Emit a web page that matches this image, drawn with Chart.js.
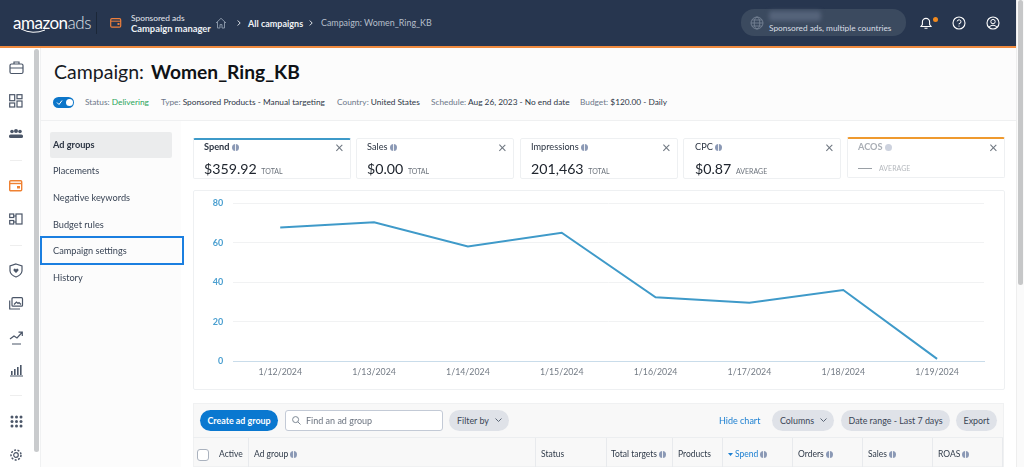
<!DOCTYPE html>
<html><head><meta charset="utf-8">
<script src="https://cdn.jsdelivr.net/npm/chart.js@4"></script>
<style>
html,body{margin:0;padding:0;width:1024px;height:467px;overflow:hidden;background:#fff;font-family:Lato,"Noto Sans",sans-serif;color:#2b3442}
#root{position:relative;width:1024px;height:467px;overflow:hidden;filter:blur(.45px)}
.a{position:absolute;white-space:nowrap;line-height:1}
.card{position:absolute;background:#fff;border:1px solid #eef0f2;border-radius:2px;box-sizing:border-box}
.pill{position:absolute;background:#dfe2e8;border-radius:11px;height:21px;font-size:8.9px;line-height:21px;text-align:center;color:#3a4556}
.i{display:inline-block;width:7px;height:7px;border-radius:50%;background:linear-gradient(90deg,#8b99b5 42%,#eef0f4 42%,#eef0f4 58%,#8b99b5 58%);vertical-align:-.5px}
.x{position:absolute;font-size:15px;color:#707882;line-height:1}
svg{position:absolute;overflow:visible}
.th{position:absolute;top:438px;height:29px;border-right:1px solid #e8eaed;box-sizing:border-box}
.tt{font-size:8.5px;color:#2f3a49;top:450px}
.n{font-size:9.2px;color:#3a4556;left:53px}
.k{top:142px;font-size:9.2px}
.v{top:162px;font-size:14.2px;color:#20262f}
.v span{font-size:7px;color:#6c737c;margin-left:1px}
.s{top:98px;font-size:8.3px;color:#2d3747}
.s span{color:#6c7789}
</style></head><body><div id="root">
<!-- header -->
<div class="a" style="left:0;top:0;width:1016px;height:46px;background:#27364f"></div>
<div class="a" style="left:0;top:46px;width:1016px;height:2px;background:#f08a3e"></div>
<div class="a" style="left:13px;top:14px;font-size:17px;color:#fff;letter-spacing:-.5px">amazon<span style="font-weight:300;color:#dde2e8">ads</span></div>
<svg style="left:20px;top:29px" width="28" height="5"><path d="M1 0 Q13 6 25 1" stroke="#fff" fill="none" stroke-width="1"/></svg>
<div class="a" style="left:96px;top:12px;width:1px;height:22px;background:#1b2738"></div>
<svg style="left:110px;top:18px" width="12" height="10"><rect x=".7" y=".7" width="10" height="8.5" rx="1.2" fill="none" stroke="#ee7f3c" stroke-width="1.2"/><path d="M1 3.2H11" stroke="#ee7f3c"/><rect x="7.5" y="5" width="2" height="2" fill="#ee7f3c"/></svg>
<div class="a" style="left:131px;top:14px;font-size:8.4px;color:#e4e8ee">Sponsored ads</div>
<div class="a" style="left:131px;top:24px;font-size:9.4px;font-weight:700;color:#eef1f5">Campaign manager</div>
<svg style="left:215px;top:17px" width="12" height="12"><path d="M1 6 L6 1.3 L11 6 M2.5 5V11H5V7.6H7V11H9.5V5" fill="none" stroke="#8794a6"/></svg>
<svg style="left:237px;top:20px" width="4" height="6"><path d="M.7 .5L3.2 3L.7 5.5" fill="none" stroke="#dfe3e8"/></svg>
<div class="a" style="left:248px;top:19px;font-size:9px;color:#f0f2f5;font-weight:700">All campaigns</div>
<svg style="left:309px;top:20px" width="4" height="6"><path d="M.7 .5L3.2 3L.7 5.5" fill="none" stroke="#dfe3e8"/></svg>
<div class="a" style="left:321px;top:19px;font-size:8.9px;color:#b6bfca">Campaign: Women_Ring_KB</div>
<div class="a" style="left:741px;top:9px;width:165px;height:27px;border-radius:13px;background:#3b4a5f"></div>
<svg style="left:750px;top:16px" width="14" height="14"><g fill="none" stroke="#7b8899" stroke-width=".8"><circle cx="7" cy="7" r="6"/><ellipse cx="7" cy="7" rx="2.8" ry="6"/><path d="M1 7H13M2 4H12M2 10H12"/></g></svg>
<div class="a" style="left:769px;top:11px;width:52px;height:10px;background:#55637a;border-radius:3px;filter:blur(2px)"></div>
<div class="a" style="left:769px;top:24px;font-size:8.3px;color:#d9dee5">Sponsored ads, multiple countries</div>
<svg style="left:919px;top:16px" width="14" height="14"><path d="M2 10.5 H12 L10.6 8.5 V6 A3.6 3.6 0 0 0 3.4 6 V8.5 Z M5.5 12.3 H8.5" fill="none" stroke="#fff" stroke-width="1.1"/></svg>
<div class="a" style="left:933px;top:17px;width:5px;height:5px;border-radius:50%;background:#f28a1e"></div>
<svg style="left:952px;top:16px" width="14" height="14"><circle cx="7" cy="7" r="6" fill="none" stroke="#fff" stroke-width="1.1"/><path d="M5.2 5.4 A1.9 1.9 0 1 1 7 7.6 V8.4 M7 9.6 V10.6" fill="none" stroke="#fff"/></svg>
<svg style="left:986px;top:16px" width="14" height="14"><circle cx="7" cy="7" r="6" fill="none" stroke="#fff" stroke-width="1.1"/><circle cx="7" cy="5.6" r="2.2" fill="none" stroke="#fff"/><path d="M3 11 Q7 7.5 11 11" fill="none" stroke="#fff"/></svg>

<!-- left rail -->
<div class="a" style="left:34px;top:49px;width:4.5px;height:403px;background:#c9cbcd;border-radius:3px"></div>
<svg style="left:9px;top:61px" width="15" height="14"><g fill="none" stroke="#4b5668" stroke-width="1.2"><rect x="1" y="3" width="13" height="9.5" rx="1.5"/><path d="M5 3V1H10V3M1 7H14"/></g></svg>
<svg style="left:9px;top:94px" width="14" height="14"><g fill="none" stroke="#4b5668" stroke-width="1.2"><rect x=".7" y=".7" width="5" height="6"/><rect x="8" y=".7" width="5" height="4"/><rect x=".7" y="9" width="5" height="4"/><rect x="8" y="7" width="5" height="6"/></g></svg>
<svg style="left:9px;top:129px" width="14" height="10"><g fill="#4b5668"><circle cx="3" cy="2.5" r="1.8"/><circle cx="11" cy="2.5" r="1.8"/><circle cx="7" cy="2" r="2"/><rect x="0" y="5.5" width="14" height="3.5" rx="1.5"/></g></svg>
<div class="a" style="left:10px;top:160px;width:12px;height:1px;background:#eee"></div>
<svg style="left:9px;top:180px" width="14" height="12"><rect x=".7" y=".7" width="12" height="10" rx="1" fill="none" stroke="#ef8132" stroke-width="1.4"/><path d="M1 3.5H13" stroke="#ef8132" stroke-width="1.4"/><rect x="8" y="6" width="3" height="2.5" fill="#ef8132"/></svg>
<svg style="left:9px;top:213px" width="14" height="12"><g fill="none" stroke="#4b5668" stroke-width="1.2"><rect x=".7" y="1" width="4" height="3.5"/><rect x=".7" y="7.5" width="4" height="3.5"/><rect x="7" y="1" width="6" height="10"/><path d="M4.7 3H7M4.7 9H7"/></g></svg>
<div class="a" style="left:10px;top:245px;width:12px;height:1px;background:#eee"></div>
<svg style="left:9px;top:263px" width="14" height="15"><path d="M7 1 L13 3 V8 Q12.5 12 7 14 Q1.5 12 1 8 V3 Z" fill="none" stroke="#4b5668" stroke-width="1.2"/><path d="M7 10 L4.5 7.4 Q4.3 5.6 6 5.6 L7 6.4 L8 5.6 Q9.7 5.6 9.5 7.4 Z" fill="#4b5668"/></svg>
<svg style="left:9px;top:297px" width="14" height="13"><g fill="none" stroke="#4b5668" stroke-width="1.2"><rect x="3" y=".7" width="10.5" height="8.5" rx="1"/><path d="M.7 3.5V12H11M5 7.5L7.5 5 L9 6.5 L10 5.5 L12 7.5"/></g></svg>
<svg style="left:9px;top:331px" width="15" height="14"><g fill="none" stroke="#4b5668" stroke-width="1.2"><path d="M1 8 L5 5 L8 7 L13 1.5 M9.5 1.2H13.3V5M3 13H12"/></g></svg>
<svg style="left:10px;top:364px" width="13" height="13"><g fill="#4b5668"><rect x="1" y="7" width="1.6" height="4"/><rect x="4" y="5" width="1.6" height="6"/><rect x="7" y="3" width="1.6" height="8"/><rect x="10" y="1" width="1.6" height="10"/><rect x="0" y="11.5" width="13" height="1"/></g></svg>
<div class="a" style="left:10px;top:395px;width:12px;height:1px;background:#eee"></div>
<svg style="left:10px;top:415px" width="13" height="13"><g fill="#4b5668"><circle cx="2" cy="2" r="1.5"/><circle cx="6.5" cy="2" r="1.5"/><circle cx="11" cy="2" r="1.5"/><circle cx="2" cy="6.5" r="1.5"/><circle cx="6.5" cy="6.5" r="1.5"/><circle cx="11" cy="6.5" r="1.5"/><circle cx="2" cy="11" r="1.5"/><circle cx="6.5" cy="11" r="1.5"/><circle cx="11" cy="11" r="1.5"/></g></svg>
<svg style="left:9px;top:448px" width="14" height="14"><circle cx="7" cy="7" r="2.3" fill="none" stroke="#4b5668" stroke-width="1.2"/><circle cx="7" cy="7" r="5" fill="none" stroke="#4b5668" stroke-width="1.5" stroke-dasharray="2 1.5"/></svg>

<!-- page header -->
<div class="a" style="left:40px;top:48px;width:976px;height:72px;background:#fcfcfc"></div>
<div class="a" style="left:40px;top:48px;width:1px;height:419px;background:#f0f1f2"></div>
<div class="a" style="left:54px;top:62px;font-size:19.5px;color:#16191f">Campaign:</div>
<div class="a" style="left:151px;top:62px;font-size:19.2px;font-weight:700;color:#0f1216">Women_Ring_KB</div>
<div class="a" style="left:53px;top:97px;width:21px;height:11px;border-radius:6px;background:#0c76c9"></div>
<div class="a" style="left:66px;top:99px;width:7px;height:7px;border-radius:50%;background:#fff"></div>
<svg style="left:56px;top:99px" width="7" height="7"><path d="M1 3.5 L3 5.5 L6 1.5" fill="none" stroke="#fff" stroke-width="1"/></svg>
<div class="a s" style="left:85px"><span>Status:</span> <span style="color:#2aa55a">Delivering</span></div>
<div class="a s" style="left:161px"><span>Type:</span> Sponsored Products - Manual targeting</div>
<div class="a s" style="left:337px"><span>Country:</span> United States</div>
<div class="a s" style="left:431px"><span>Schedule:</span> Aug 26, 2023 - No end date</div>
<div class="a s" style="left:580px"><span>Budget:</span> $120.00 - Daily</div>
<div class="a" style="left:40px;top:120px;width:976px;height:1px;background:#eff0f1"></div>

<!-- left nav -->
<div class="a" style="left:41px;top:121px;width:140px;height:346px;background:#fcfcfc"></div>
<div class="a" style="left:50px;top:132px;width:122px;height:26px;background:#ebeced;border-radius:2px"></div>
<div class="a n" style="top:140px;font-weight:700;color:#2b3442">Ad groups</div>
<div class="a n" style="top:166px">Placements</div>
<div class="a n" style="top:193px">Negative keywords</div>
<div class="a n" style="top:220px">Budget rules</div>
<div class="a" style="left:40px;top:236px;width:144px;height:29px;box-sizing:border-box;border:2px solid #1b7fe0"></div>
<div class="a n" style="top:246px">Campaign settings</div>
<div class="a n" style="top:273px">History</div>

<!-- KPI cards -->
<div class="card" style="left:193px;top:138px;width:158px;height:41px;border-top:2px solid #3e9ac9"></div>
<div class="a k" style="left:204px;font-weight:700">Spend <span class="i"></span></div>
<div class="x" style="left:335px;top:140px">×</div>
<div class="a v" style="left:204px">$359.92 <span>TOTAL</span></div>

<div class="card" style="left:356px;top:138px;width:158px;height:41px"></div>
<div class="a k" style="left:367px">Sales <span class="i"></span></div>
<div class="x" style="left:498px;top:140px">×</div>
<div class="a v" style="left:367px">$0.00 <span>TOTAL</span></div>

<div class="card" style="left:520px;top:138px;width:158px;height:41px"></div>
<div class="a k" style="left:531px">Impressions <span class="i"></span></div>
<div class="x" style="left:662px;top:140px">×</div>
<div class="a v" style="left:531px">201,463 <span>TOTAL</span></div>

<div class="card" style="left:683px;top:138px;width:158px;height:41px"></div>
<div class="a k" style="left:695px">CPC <span class="i"></span></div>
<div class="x" style="left:825px;top:140px">×</div>
<div class="a v" style="left:695px">$0.87 <span>AVERAGE</span></div>

<div class="card" style="left:847px;top:137px;width:158px;height:41px;border-top:2px solid #ef9a2f"></div>
<div class="a k" style="left:858px;font-weight:700;color:#a9aeb5">ACOS <span class="i" style="background:#cdd2de"></span></div>
<div class="x" style="left:989px;top:140px">×</div>
<div class="a" style="left:858px;top:168px;width:14px;height:1px;background:#9aa0a6"></div>
<div class="a" style="left:879px;top:165px;font-size:7px;color:#b5b9be">AVERAGE</div>

<!-- chart -->
<div class="card" style="left:193px;top:190px;width:812px;height:200px"></div>
<div class="a" style="left:193px;top:190px;width:812px;height:200px"><canvas id="c" width="812" height="200" style="width:812px;height:200px"></canvas></div>

<!-- table toolbar -->
<div class="a" style="left:193px;top:403px;width:811px;height:64px;background:#f8f8f8;border:1px solid #f0f1f2;box-sizing:border-box"></div>
<div class="a" style="left:200px;top:410px;width:78px;height:21px;border-radius:11px;background:#0a78d0;color:#fff;font-size:8.9px;line-height:21px;text-align:center;font-weight:700">Create ad group</div>
<div class="a" style="left:285px;top:410px;width:158px;height:21px;border-radius:3px;background:#fff;border:1px solid #c3cad6;box-sizing:border-box"></div>
<svg style="left:292px;top:416px" width="9" height="9"><circle cx="3.6" cy="3.6" r="3" fill="none" stroke="#7d8894"/><path d="M5.8 5.8L8.5 8.5" stroke="#7d8894"/></svg>
<div class="a" style="left:306px;top:416px;font-size:9px;color:#6c7480">Find an ad group</div>
<div class="pill" style="left:449px;top:410px;width:60px;text-align:left;text-indent:8px">Filter by</div>
<svg style="left:495px;top:418px" width="7" height="5"><path d="M.5 .5L3.5 3.5L6.5 .5" fill="none" stroke="#5b6675"/></svg>
<div class="a" style="left:719px;top:416px;font-size:9px;color:#1b7fd1">Hide chart</div>
<div class="pill" style="left:772px;top:410px;width:62px;text-align:left;text-indent:8px">Columns</div>
<svg style="left:820px;top:418px" width="7" height="5"><path d="M.5 .5L3.5 3.5L6.5 .5" fill="none" stroke="#5b6675"/></svg>
<div class="pill" style="left:841px;top:410px;width:109px">Date range - Last 7 days</div>
<div class="pill" style="left:956px;top:410px;width:41px">Export</div>

<!-- table header -->
<div class="a" style="left:193px;top:437px;width:810px;height:1px;background:#eceef0"></div>
<div class="th" style="left:193px;width:56px"></div>
<div class="th" style="left:249px;width:287px"></div>
<div class="th" style="left:536px;width:71px"></div>
<div class="th" style="left:607px;width:66px"></div>
<div class="th" style="left:673px;width:50px"></div>
<div class="th" style="left:723px;width:70px"></div>
<div class="th" style="left:793px;width:70px"></div>
<div class="th" style="left:863px;width:70px"></div>
<div class="th" style="left:933px;width:70px"></div>
<div class="a" style="left:197px;top:449px;width:12px;height:12px;border-radius:3px;border:1px solid #aab2be;background:#fff;box-sizing:border-box"></div>
<div class="a tt" style="left:219px">Active</div>
<div class="a tt" style="left:254px">Ad group <span class="i"></span></div>
<div class="a tt" style="left:541px">Status</div>
<div class="a tt" style="left:611px">Total targets <span class="i"></span></div>
<div class="a tt" style="left:678px">Products</div>
<svg style="left:728px;top:453px" width="5" height="4"><path d="M0 0H5L2.5 3Z" fill="#1b7fd1"/></svg>
<div class="a tt" style="left:735px;color:#1b7fd1">Spend <span class="i"></span></div>
<div class="a tt" style="left:798px">Orders <span class="i"></span></div>
<div class="a tt" style="left:868px">Sales <span class="i"></span></div>
<div class="a tt" style="left:938px">ROAS <span class="i"></span></div>

<!-- right scrollbar -->
<div class="a" style="left:1016px;top:0;width:8px;height:467px;background:#fafafa;border-left:1px solid #eee;box-sizing:border-box"></div>
<div class="a" style="left:1018px;top:0;width:4.5px;height:285px;background:#c6c7c8;border-radius:3px"></div>
</div>
<script>
const categories=["1/12/2024","1/13/2024","1/14/2024","1/15/2024","1/16/2024","1/17/2024","1/18/2024","1/19/2024"];
const spendValues=[67.7,70.4,58.1,65.1,32.4,29.7,36.1,1.2];
const yTicks=[0,20,40,60,80];
const lineColor="#3f9ac9";
new Chart(document.getElementById('c'),{
  type:'line',
  data:{labels:categories,datasets:[{label:'Spend',data:spendValues,borderColor:lineColor,borderWidth:2,pointRadius:0,tension:0,fill:false,borderJoinStyle:'miter'}]},
  options:{
    responsive:false,animation:false,devicePixelRatio:1,
    layout:{padding:{left:0,right:21,top:13.3,bottom:0}},
    plugins:{legend:{display:false},tooltip:{enabled:false}},
    scales:{
      x:{offset:true,
        grid:{display:false,drawTicks:false},
        border:{display:true,color:'#c9dcea',width:1},
        afterFit(s){s.height=28.7;},
        ticks:{color:'#737b85',font:{family:'Lato',size:8.8},padding:6,maxRotation:0,autoSkip:false}},
      y:{min:0,max:80,
        afterBuildTicks(s){s.ticks=yTicks.map(v=>({value:v}));},
        afterFit(s){s.width=40.3;s.paddingTop=0;s.paddingBottom=0;},
        grid:{color:'#f1f2f3',lineWidth:1,drawTicks:false},
        border:{display:false},
        ticks:{color:'#4a9fd0',font:{family:'Lato',size:9,weight:'700'},padding:10}}
    }
  }
});
</script>
</body></html>
